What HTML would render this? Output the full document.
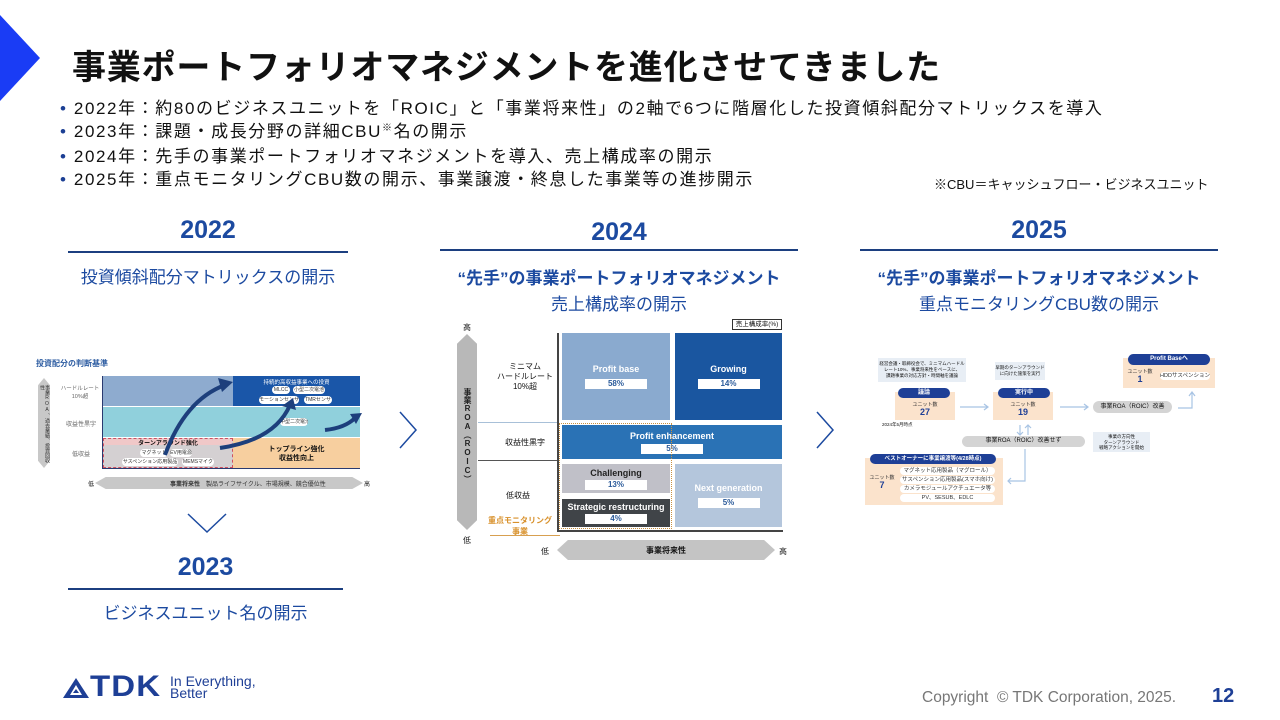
<!DOCTYPE html>
<html><head><meta charset="utf-8">
<style>
*{margin:0;padding:0;box-sizing:border-box}
body{width:1280px;height:720px;background:#fff;position:relative;overflow:hidden;font-family:"Liberation Sans","Noto Sans CJK JP",sans-serif;color:#111}
.a{position:absolute}
.c{text-align:center;white-space:nowrap}
.yr{color:#1c4aa0;font-weight:bold;font-size:25px}
.sub{color:#1c4aa0;font-size:17px}
.ln{height:2px;background:#1c3f80}
.bx{display:flex;flex-direction:column;align-items:center;justify-content:center;color:#fff;font-weight:bold;font-size:9px}
.pc{background:#fff;color:#2a5a9a;width:62px;height:10px;font-size:8px;text-align:center;line-height:10px;margin-top:5px}
.t{font-size:7px;white-space:nowrap}
.pill{border-radius:6px;background:#fff;font-size:5px;text-align:center;line-height:8px;height:8px;color:#333;white-space:nowrap;overflow:hidden}
.vt{writing-mode:vertical-rl;text-orientation:upright}
</style></head><body>
<div class="a" style="left:0;top:15px;width:0;height:0;border-top:43px solid transparent;border-bottom:43px solid transparent;border-left:40px solid #1a3cf5"></div>
<div class="a" style="left:72px;top:40px;font-size:34px;font-weight:bold;white-space:nowrap;letter-spacing:0.8px">事業ポートフォリオマネジメントを進化させてきました</div>
<div class="a" style="left:60px;top:98px;font-size:17px;letter-spacing:1.6px;line-height:22.5px;white-space:nowrap">
<div><span style="color:#1c3f94">•</span>&nbsp;2022年：約80のビジネスユニットを「ROIC」と「事業将来性」の2軸で6つに階層化した投資傾斜配分マトリックスを導入</div>
<div><span style="color:#1c3f94">•</span>&nbsp;2023年：課題・成長分野の詳細CBU<span style="font-size:10px;position:relative;top:-6px">※</span>名の開示</div>
<div><span style="color:#1c3f94">•</span>&nbsp;2024年：先手の事業ポートフォリオマネジメントを導入、売上構成率の開示</div>
<div><span style="color:#1c3f94">•</span>&nbsp;2025年：重点モニタリングCBU数の開示、事業譲渡・終息した事業等の進捗開示</div>
</div>
<div class="a" style="left:934px;top:174px;font-size:13px;white-space:nowrap">※CBU＝キャッシュフロー・ビジネスユニット</div>

<!-- 2022 -->
<div class="a c yr" style="left:68px;width:280px;top:216px">2022</div>
<div class="a ln" style="left:68px;width:280px;top:251px"></div>
<div class="a c sub" style="left:68px;width:280px;top:263px">投資傾斜配分マトリックスの開示</div>
<div class="a t" style="left:36px;top:358px;color:#2a5aa0;font-weight:bold;font-size:8px">投資配分の判断基準</div>
<div class="a" style="left:38px;top:378px;width:12px;height:90px;background:#c8c8c8;clip-path:polygon(50% 0,100% 8%,100% 92%,50% 100%,0 92%,0 8%)"></div>
<div class="a vt" style="left:39px;top:385px;font-size:5px;line-height:5px;height:80px;color:#333">事業ROA、過去業績、投資回収性</div>
<div class="a t c" style="left:58px;width:44px;top:385px;color:#666;font-size:5.5px;line-height:8px">ハードルレート<br>10%超</div>
<div class="a t" style="left:66px;top:419px;color:#666;font-size:6px">収益性黒字</div>
<div class="a t" style="left:72px;top:449px;color:#666;font-size:6px">低収益</div>
<div class="a" style="left:103px;top:376px;width:130px;height:30px;background:#8eabcf"></div>
<div class="a" style="left:233px;top:376px;width:127px;height:30px;background:#1a56a8"></div>
<div class="a t c" style="left:233px;width:127px;top:378px;color:#fff;font-size:5.5px">持続的高収益事業への投資</div>
<div class="a pill" style="left:272px;top:386px;width:18px">MLCC</div>
<div class="a pill" style="left:293px;top:386px;width:32px">小型二次電池</div>
<div class="a pill" style="left:259px;top:396px;width:40px">モーションセンサ</div>
<div class="a pill" style="left:304px;top:396px;width:28px">TMRセンサ</div>
<div class="a" style="left:103px;top:407px;width:257px;height:30px;background:#90d0dc"></div>
<div class="a pill" style="left:280px;top:418px;width:28px">中型二次電池</div>
<div class="a" style="left:103px;top:438px;width:130px;height:30px;background:#d4d0d2;border:1px dashed #d05060"></div>
<div class="a" style="left:104px;top:439px;width:128px;height:6px;background:#f0c8c8"></div>
<div class="a t c" style="left:103px;width:130px;top:438px;font-size:6px;font-weight:bold">ターンアラウンド強化</div>
<div class="a pill" style="left:140px;top:449px;width:28px">マグネット</div>
<div class="a pill" style="left:170px;top:449px;width:22px">EV用電源</div>
<div class="a pill" style="left:122px;top:458px;width:56px">サスペンション応用製品</div>
<div class="a pill" style="left:182px;top:458px;width:32px">MEMSマイク</div>
<div class="a" style="left:233px;top:438px;width:127px;height:30px;background:#f7cf9f"></div>
<div class="a t c" style="left:233px;width:127px;top:445px;font-size:7px;font-weight:bold;line-height:9px">トップライン強化<br>収益性向上</div>
<div class="a" style="left:102px;top:376px;width:1px;height:93px;background:#2a3a70"></div>
<div class="a" style="left:102px;top:468px;width:258px;height:1px;background:#2a3a70"></div>
<svg class="a" style="left:100px;top:370px" width="270" height="100"><g fill="none" stroke="#1d3f7c" stroke-width="4"><path d="M65 85 Q85 30 125 15"/><path d="M120 78 Q175 70 190 35"/><path d="M225 60 Q245 58 255 48"/></g><g fill="#1d3f7c"><path d="M133 12 L118 8 L122 22Z"/><path d="M193 28 L182 36 L196 40Z"/><path d="M262 43 L250 44 L256 54Z"/></g></svg>
<div class="a" style="left:95px;top:477px;width:268px;height:12px;background:#c8c8c8;clip-path:polygon(0 50%,4% 0,96% 0,100% 50%,96% 100%,4% 100%)"></div>
<div class="a t" style="left:170px;top:479px;font-size:6px;color:#333"><b>事業将来性</b>　製品ライフサイクル、市場規模、競合優位性</div>
<div class="a t" style="left:88px;top:479px;font-size:6px">低</div>
<div class="a t" style="left:364px;top:479px;font-size:6px">高</div>
<svg class="a" style="left:186px;top:512px" width="42" height="22"><path d="M2 2 L21 20 L40 2" fill="none" stroke="#1c4aa0" stroke-width="1.5"/></svg>

<!-- 2023 -->
<div class="a c yr" style="left:68px;width:275px;top:553px">2023</div>
<div class="a ln" style="left:68px;width:275px;top:588px"></div>
<div class="a c sub" style="left:68px;width:275px;top:599px">ビジネスユニット名の開示</div>

<svg class="a" style="left:398px;top:410px" width="20" height="40"><path d="M2 2 L18 20 L2 38" fill="none" stroke="#1c4aa0" stroke-width="1.5"/></svg>
<svg class="a" style="left:815px;top:410px" width="20" height="40"><path d="M2 2 L18 20 L2 38" fill="none" stroke="#1c4aa0" stroke-width="1.5"/></svg>

<!-- 2024 -->
<div class="a c yr" style="left:440px;width:358px;top:218px">2024</div>
<div class="a ln" style="left:440px;width:358px;top:249px;height:1.5px"></div>
<div class="a c sub" style="left:440px;width:358px;top:264px;font-weight:bold">“先手”の事業ポートフォリオマネジメント</div>
<div class="a c sub" style="left:440px;width:358px;top:290px">売上構成率の開示</div>
<div class="a t" style="left:463px;top:322px;font-size:8px">高</div>
<div class="a t" style="left:463px;top:535px;font-size:8px">低</div>
<div class="a" style="left:457px;top:334px;width:20px;height:196px;background:#b8b8b8;clip-path:polygon(50% 0,100% 5%,100% 95%,50% 100%,0 95%,0 5%)"></div>
<div class="a vt" style="left:462px;top:388px;font-size:8px;font-weight:bold;line-height:10px;color:#222">事業ROA（ROIC）</div>
<div class="a" style="left:732px;top:319px;width:50px;height:11px;border:1px solid #333;font-size:6.5px;text-align:center;line-height:9px">売上構成率(%)</div>
<div class="a t c" style="left:490px;width:70px;top:362px;font-size:8px;line-height:10px">ミニマム<br>ハードルレート<br>10%超</div>
<div class="a t c" style="left:490px;width:70px;top:437px;font-size:8px">収益性黒字</div>
<div class="a t c" style="left:490px;width:56px;top:490px;font-size:8px">低収益</div>
<div class="a t c" style="left:482px;width:76px;top:515px;font-size:8px;color:#d8902a;font-weight:bold;line-height:11px">重点モニタリング<br>事業</div>
<div class="a" style="left:478px;top:422px;width:80px;height:1px;background:#a8c0d8"></div>
<div class="a" style="left:478px;top:460px;width:80px;height:1px;background:#555"></div>
<div class="a" style="left:557px;top:333px;width:1.5px;height:198px;background:#444"></div>
<div class="a" style="left:557px;top:530px;width:226px;height:1.5px;background:#444"></div>
<div class="a bx" style="left:562px;top:333px;width:108px;height:87px;background:#8aaacf">Profit base<div class="pc">58%</div></div>
<div class="a bx" style="left:675px;top:333px;width:107px;height:87px;background:#1a56a0">Growing<div class="pc">14%</div></div>
<div class="a bx" style="left:562px;top:425px;width:220px;height:34px;background:#2a72b5">Profit enhancement<div class="pc" style="margin-top:3px">5%</div></div>
<div class="a bx" style="left:562px;top:464px;width:108px;height:29px;background:#c0c0c8;color:#222">Challenging<div class="pc" style="margin-top:2px">13%</div></div>
<div class="a bx" style="left:562px;top:499px;width:108px;height:28px;background:#404448">Strategic restructuring<div class="pc" style="margin-top:2px">4%</div></div>
<div class="a bx" style="left:675px;top:464px;width:107px;height:63px;background:#b4c6dc">Next generation<div class="pc">5%</div></div>
<div class="a" style="left:559px;top:423px;width:113px;height:106px;border:1.5px dotted #c89040"></div>
<div class="a" style="left:490px;top:535px;width:70px;height:1px;background:#d8a050"></div>
<div class="a t" style="left:541px;top:546px;font-size:8px">低</div>
<div class="a t" style="left:779px;top:546px;font-size:8px">高</div>
<div class="a" style="left:557px;top:540px;width:218px;height:20px;background:#c4c4c4;clip-path:polygon(0 50%,5% 0,95% 0,100% 50%,95% 100%,5% 100%)"></div>
<div class="a t c" style="left:557px;width:218px;top:545px;font-size:8px;font-weight:bold">事業将来性</div>

<!-- 2025 -->
<div class="a c yr" style="left:860px;width:358px;top:216px">2025</div>
<div class="a ln" style="left:860px;width:358px;top:249px;height:1.5px"></div>
<div class="a c sub" style="left:860px;width:358px;top:264px;font-weight:bold">“先手”の事業ポートフォリオマネジメント</div>
<div class="a c sub" style="left:860px;width:358px;top:290px">重点モニタリングCBU数の開示</div>

<div class="a t c" style="left:878px;top:358px;width:88px;height:24px;background:#e8eef5;font-size:4.5px;line-height:6px;padding-top:3px">経営会議・取締役会で、ミニマムハードル<br>レート10%、事業将来性をベースに、<br>課題事業の対応方針・時間軸を議論</div>
<div class="a" style="left:895px;top:392px;width:60px;height:28px;background:#fbe3cc"></div>
<div class="a t c" style="left:898px;top:388px;width:52px;height:10px;background:#1e3f96;color:#fff;border-radius:6px;font-size:6px;line-height:10px;font-weight:bold">議論</div>
<div class="a t c" style="left:895px;top:401px;width:60px;font-size:5px;color:#333">ユニット数</div>
<div class="a t c" style="left:895px;top:407px;width:60px;font-size:9px;font-weight:bold;color:#1e3f96">27</div>
<div class="a t" style="left:882px;top:422px;font-size:4.5px">2024年5月時点</div>
<div class="a t c" style="left:995px;top:362px;width:50px;height:18px;background:#e8eef5;font-size:4.5px;line-height:6px;padding-top:3px">早期のターンアラウンド<br>に向けた施策を実行</div>
<div class="a" style="left:993px;top:392px;width:60px;height:28px;background:#fbe3cc"></div>
<div class="a t c" style="left:998px;top:388px;width:52px;height:10px;background:#1e3f96;color:#fff;border-radius:6px;font-size:6px;line-height:10px;font-weight:bold">実行中</div>
<div class="a t c" style="left:993px;top:401px;width:60px;font-size:5px;color:#333">ユニット数</div>
<div class="a t c" style="left:993px;top:407px;width:60px;font-size:9px;font-weight:bold;color:#1e3f96">19</div>
<div class="a t c" style="left:1093px;top:401px;width:79px;height:12px;background:#d4d4d4;border-radius:6px;font-size:6px;line-height:12px">事業ROA（ROIC）改善</div>
<div class="a" style="left:1123px;top:358px;width:92px;height:30px;background:#fbe3cc"></div>
<div class="a t c" style="left:1128px;top:354px;width:82px;height:11px;background:#1e3f96;color:#fff;border-radius:6px;font-size:6px;line-height:11px;font-weight:bold">Profit Baseへ</div>
<div class="a t c" style="left:1125px;top:368px;width:30px;font-size:5px;color:#333">ユニット数</div>
<div class="a t c" style="left:1125px;top:374px;width:30px;font-size:9px;font-weight:bold;color:#1e3f96">1</div>
<div class="a pill" style="left:1160px;top:372px;width:50px;font-size:5.5px">HDDサスペンション</div>
<div class="a t c" style="left:962px;top:436px;width:123px;height:11px;background:#d4d4d4;border-radius:6px;font-size:6px;line-height:11px">事業ROA（ROIC）改善せず</div>
<div class="a t c" style="left:1093px;top:432px;width:57px;height:20px;background:#e8eef5;font-size:4.5px;line-height:5.5px;padding-top:2px">事業の方向性<br>ターンアラウンド<br>戦略アクションを開始</div>
<div class="a" style="left:865px;top:458px;width:138px;height:47px;background:#fbe3cc"></div>
<div class="a t c" style="left:870px;top:454px;width:126px;height:10px;background:#1e3f96;color:#fff;border-radius:6px;font-size:5.5px;line-height:10px;font-weight:bold">ベストオーナーに事業譲渡等(4/28時点)</div>
<div class="a t c" style="left:868px;top:474px;width:28px;font-size:5px;color:#333">ユニット数</div>
<div class="a t c" style="left:868px;top:480px;width:28px;font-size:9px;font-weight:bold;color:#1e3f96">7</div>
<div class="a pill" style="left:900px;top:467px;width:95px;font-size:5.5px">マグネット応用製品（マグロール）</div>
<div class="a pill" style="left:900px;top:476px;width:95px;font-size:5.5px">サスペンション応用製品(スマホ向け)</div>
<div class="a pill" style="left:900px;top:485px;width:95px;font-size:5.5px">カメラモジュールアクチュエータ等</div>
<div class="a pill" style="left:900px;top:494px;width:95px;font-size:5.5px">PV、SESUB、EDLC</div>
<svg class="a" style="left:860px;top:345px" width="360" height="170"><g fill="none" stroke="#a8c4e4" stroke-width="1.2"><path d="M100 62 H128 M124 59 L128 62 L124 65"/><path d="M200 62 H228 M224 59 L228 62 L224 65"/><path d="M318 63 H332 V48 M329 51 L332 47 L335 51"/><path d="M160 80 V90 M157 87 L160 90 L163 87"/><path d="M168 90 V80 M165 83 L168 80 L171 83"/><path d="M165 104 V136 H148 M151 133 L148 136 L151 139"/></g></svg>

<!-- footer -->
<svg class="a" style="left:62px;top:677px" width="28" height="22"><path d="M14 1 L27 21 H1Z" fill="#1e3f96"/><path d="M14 8 L20 18 H8Z" fill="#fff"/><path d="M14 12 L17 16 H11Z" fill="#1e3f96"/></svg>
<div class="a" style="left:90px;top:670px;font-size:30px;font-weight:900;color:#1e3f96;letter-spacing:1px;transform:scaleX(1.1);transform-origin:left">TDK</div>
<div class="a" style="left:170px;top:675px;font-size:14px;color:#1e3f96;line-height:12px">In Everything,<br>Better</div>
<div class="a t" style="left:922px;top:689px;font-size:15.5px;color:#777">Copyright &nbsp;© TDK Corporation, 2025.</div>
<div class="a t" style="left:1212px;top:685px;font-size:20px;font-weight:bold;color:#1e3f96">12</div>
</body></html>
